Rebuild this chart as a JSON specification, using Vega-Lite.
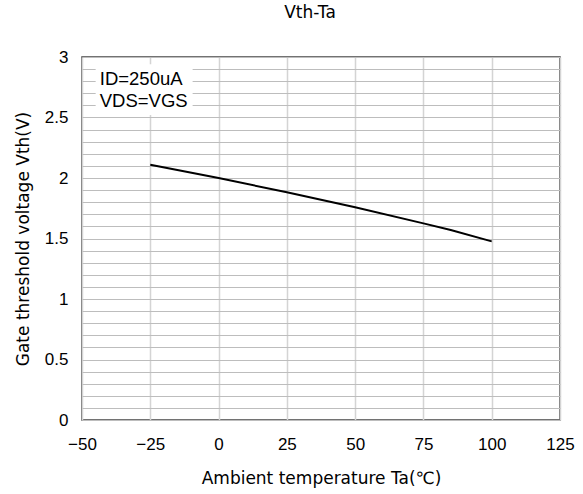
{
  "$schema": "https://vega.github.io/schema/vega-lite/v6.json",
  "autosize": {"type": "none"},
  "padding": {"left": 82, "top": 57, "right": 23, "bottom": 74},
  "width": 478,
  "height": 363,
  "background": "white",
  "title": {"text": "Vth-Ta", "fontSize": 17, "font": "DejaVu Sans", "fontWeight": "normal", "color": "#000", "offset": 26, "dx": -11},
  "config": {
    "view": {"stroke": "#444", "strokeWidth": 1.5},
    "axis": {"labelFont": "Liberation Sans", "labelFontSize": 17, "labelColor": "#000", "titleFont": "DejaVu Sans", "titleFontSize": 17, "titleFontWeight": "normal", "titleColor": "#000", "ticks": false, "domain": false, "labelOverlap": false, "labelFlush": false, "labelBound": false, "tickCount": 100}
  },
  "layer": [
    {
      "data": {"values": [
        {"Ta": -25, "Vth": 2.11},
        {"Ta": 0, "Vth": 2.0},
        {"Ta": 25, "Vth": 1.882},
        {"Ta": 50, "Vth": 1.758},
        {"Ta": 75, "Vth": 1.625},
        {"Ta": 85, "Vth": 1.57},
        {"Ta": 100, "Vth": 1.476}
      ]},
      "mark": {"type": "line", "color": "#000", "strokeWidth": 2},
      "encoding": {
        "x": {"field": "Ta", "type": "quantitative", "scale": {"domain": [-50, 125], "nice": false},
          "axis": {"values": [-50, -25, 0, 25, 50, 75, 100, 125], "labelPadding": 16, "title": "Ambient temperature Ta(℃)", "titlePadding": 18, "gridColor": "#d4d4d4", "gridWidth": 1.5}},
        "y": {"field": "Vth", "type": "quantitative", "scale": {"domain": [0, 3], "nice": false},
          "axis": {"values": [0, 0.1, 0.2, 0.3, 0.4, 0.5, 0.6, 0.7, 0.8, 0.9, 1, 1.1, 1.2, 1.3, 1.4, 1.5, 1.6, 1.7, 1.8, 1.9, 2, 2.1, 2.2, 2.3, 2.4, 2.5, 2.6, 2.7, 2.8, 2.9, 3],
            "format": "~g",
            "labelExpr": "abs(datum.value*2 - round(datum.value*2)) < 0.001 ? datum.label : ''",
            "labelPadding": 14, "title": "Gate threshold voltage  Vth(V)", "titlePadding": 12, "gridColor": "#bdbdbd", "gridWidth": 1.2}}
      }
    },
    {
      "data": {"values": [{"note": "ID=250uA / VDS=VGS"}]},
      "mark": {"type": "rect", "fill": "white"},
      "encoding": {
        "x": {"datum": -45},
        "x2": {"datum": -9.5},
        "y": {"datum": 2.52},
        "y2": {"datum": 2.94}
      }
    },
    {
      "data": {"values": [{"note": "ID=250uA / VDS=VGS"}]},
      "mark": {"type": "text", "align": "left", "baseline": "middle", "fontSize": 18.5, "fontWeight": 400, "font": "Liberation Sans", "fill": "#000", "lineHeight": 22.5, "text": ["ID=250uA", "VDS=VGS"]},
      "encoding": {
        "x": {"datum": -43.5},
        "y": {"datum": 2.82}
      }
    }
  ]
}
